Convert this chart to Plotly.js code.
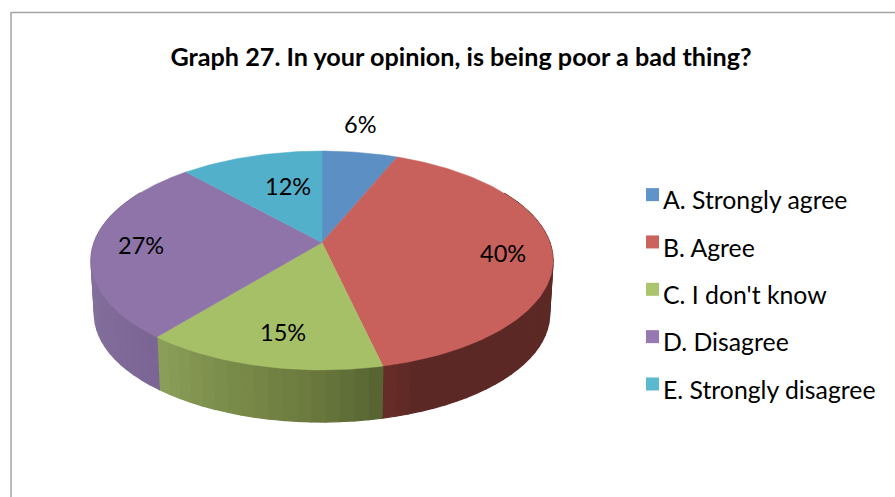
<!DOCTYPE html>
<html><head><meta charset="utf-8">
<script src="https://cdn.plot.ly/plotly-3.0.1.min.js"></script>
<style>html,body{margin:0;padding:0;background:#fff;overflow:hidden}</style>
</head><body><div id="chart" style="width:895px;height:497px"></div>
<script>
const categories = ["A. Strongly agree","B. Agree","C. I don't know","D. Disagree","E. Strongly disagree"];
const percents = [6.2,40.2,14.5,27.4,11.7];
const topColors = ["#5c8fc4","#c8615c","#a6c068","#8e74a8","#53b0cb"];
const legendColors = ["#5f93c9","#cc625c","#abc46e","#9579b0","#5ab8cf"];
const wallStops = [
  [[0,"#3f6a96"],[1,"#3f6a96"]],
  [[0,"#5e2a26"],[0.8,"#5c2825"],[0.93,"#5c2825"],[1,"#682d29"]],
  [[0,"#566331"],[0.3,"#6b7a3e"],[0.7,"#7d8f4c"],[1,"#8ca05a"]],
  [[0,"#7b6595"],[0.5,"#85719d"],[1,"#7a6597"]],
  [[0,"#37808f"],[1,"#37808f"]]
];
const labelPositions = [[360,123.5],[503,252.5],[283,331.5],[141,244.5],[288,186]];

// projection of the tilted disc onto the page
const CX=322, CY=242.5, A=227.9, B=106.5, K=0.1644, DEPTH=54, SHRINK=0.985;
function topRim(t){const u=Math.sin(t),v=Math.cos(t),d=1+K*v;return [CX+A*u/d,CY-B*v/d];}
function bottomRim(t){const p=topRim(t);return [CX+(p[0]-CX)*SHRINK,CY+(p[1]-CY)*SHRINK+DEPTH];}
const hex=c=>[1,3,5].map(i=>parseInt(c.slice(i,i+2),16));
function mix(stops,f){
  for(let i=1;i<stops.length;i++){ if(f<=stops[i][0]){
    const a=stops[i-1],b=stops[i],r=(f-a[0])/(b[0]-a[0]||1),p=hex(a[1]),q=hex(b[1]);
    return `rgb(${p.map((x,j)=>Math.round(x+(q[j]-x)*r)).join(",")})`;}}
  return stops[stops.length-1][1];
}
const total=percents.reduce((a,b)=>a+b,0);
const traces=[]; let acc=0;
const edges=percents.map(p=>{const s=acc;acc+=p;return [s/total*2*Math.PI,acc/total*2*Math.PI];});
const WALL0=60*Math.PI/180, WALL1=300*Math.PI/180;
edges.forEach((e,i)=>{
  const a=Math.max(e[0],WALL0), b=Math.min(e[1],WALL1);
  if(b<=a) return;
  const bands=Math.max(1,Math.round((b-a)/(3*Math.PI/180)));
  for(let n=0;n<bands;n++){
    const t0=a+(b-a)*n/bands, t1=a+(b-a)*(n+1)/bands, xs=[],ys=[];
    for(let s=0;s<=3;s++){const p=topRim(t0+(t1-t0)*s/3);xs.push(p[0]);ys.push(p[1]);}
    for(let s=3;s>=0;s--){const p=bottomRim(t0+(t1-t0)*s/3);xs.push(p[0]);ys.push(p[1]);}
    xs.push(xs[0]);ys.push(ys[0]);
    const c=mix(wallStops[i],(n+0.5)/bands);
    traces.push({type:"scatter",mode:"lines",x:xs,y:ys,fill:"toself",fillcolor:c,line:{color:c,width:1.2},showlegend:false,hoverinfo:"skip"});
  }
});
edges.forEach((e,i)=>{
  const xs=[CX],ys=[CY],steps=Math.ceil((e[1]-e[0])/(Math.PI/180));
  for(let s=0;s<=steps;s++){const p=topRim(e[0]+(e[1]-e[0])*s/steps);xs.push(p[0]);ys.push(p[1]);}
  xs.push(CX);ys.push(CY);
  traces.push({type:"scatter",mode:"lines",x:xs,y:ys,fill:"toself",fillcolor:topColors[i],line:{color:topColors[i],width:0.5},
    name:categories[i],legendgroup:categories[i],showlegend:false,text:Math.round(percents[i])+"%",hoverinfo:"text+name"});
});
categories.forEach((c,i)=>traces.push({type:"scatter",mode:"markers",x:[null],y:[null],name:c,legendgroup:c,
  marker:{symbol:"square",size:13,color:legendColors[i]},hoverinfo:"skip"}));

const FONT="Lato, Carlito, sans-serif";
const layout={
  width:895,height:497,margin:{l:0,r:0,t:0,b:0,pad:0},paper_bgcolor:"#fff",plot_bgcolor:"#fff",
  title:{text:"<b>Graph 27. In your opinion, is being poor a bad thing?</b>",font:{family:FONT,size:25.2,color:"#000"},
    x:461/895,xanchor:"center",xref:"paper",y:1-57/497,yanchor:"middle",yref:"paper"},
  xaxis:{range:[0,895],visible:false,fixedrange:true},
  yaxis:{range:[497,0],visible:false,fixedrange:true},
  legend:{x:623/895,y:1-177/497,xanchor:"left",yanchor:"top",traceorder:"grouped",tracegroupgap:12.1,
    font:{family:FONT,size:24.8,color:"#000"},bgcolor:"rgba(0,0,0,0)",itemclick:false,itemdoubleclick:false},
  annotations:percents.map((p,i)=>({x:labelPositions[i][0],y:labelPositions[i][1],xref:"x",yref:"y",text:Math.round(p)+"%",showarrow:false,
    font:{family:FONT,size:23.5,color:"#000"},xanchor:"center",yanchor:"middle"})),
  shapes:[
    {type:"line",xref:"x",yref:"y",x0:11,x1:11,y0:12,y1:497,line:{color:"#a3a3a3",width:1.5}},
    {type:"line",xref:"x",yref:"y",x0:11,x1:895,y0:12.5,y1:12.5,line:{color:"#a3a3a3",width:1.5}}
  ]
};
Plotly.newPlot("chart",traces,layout,{displayModeBar:false}).then(gd=>{
  gd.querySelectorAll(".legendpoints").forEach(n=>n.setAttribute("transform","translate(9.5,-5)"));
});
</script></body></html>
